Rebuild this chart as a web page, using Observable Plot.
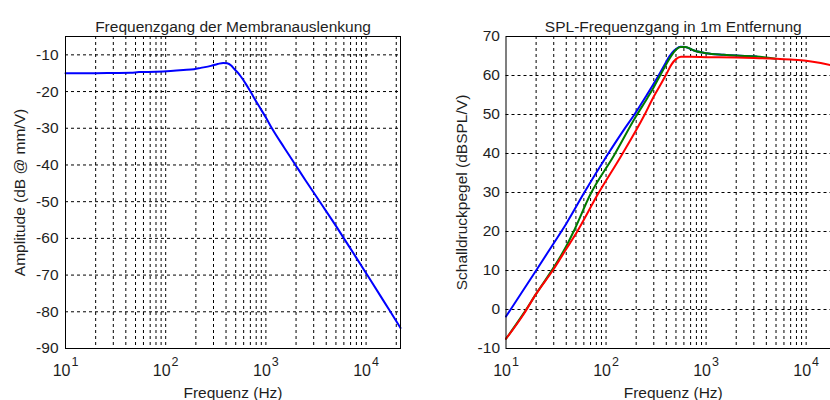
<!DOCTYPE html>
<html>
<head>
<meta charset="utf-8">
<script src="https://cdn.jsdelivr.net/npm/d3@7"></script>
<script src="https://cdn.jsdelivr.net/npm/@observablehq/plot@0.6"></script>
<style>
  html, body { margin: 0; padding: 0; background: #fff; overflow: hidden; }
  #wrap { display: flex; width: 860px; height: 400px; }
  #wrap svg { display: block; flex: none; }
</style>
</head>
<body>
<div id="wrap"></div>
<script>
// Membrane excursion (dB re mm/V) versus frequency
const excFreq = [10, 20, 30, 45, 54, 80, 112, 150, 192, 224, 282, 330, 375, 410, 450, 482, 530, 562, 630, 708, 800, 891, 1000, 1148, 1525, 1995, 2500, 3548, 5000, 6070, 8000, 10390, 14000, 17500, 22050];
const excDb   = [-15.0, -15.0, -14.95, -14.9, -14.7, -14.6, -14.4, -14.15, -13.9, -13.55, -13.0, -12.5, -12.2, -12.3, -12.9, -13.8, -15.0, -15.9, -17.9, -20.2, -22.7, -24.8, -27.1, -30.0, -35.3, -40.2, -44.3, -50.5, -56.6, -60.2, -65.3, -70.2, -75.8, -80.0, -84.4];

// SPL at 1 m (dBSPL/V), three variants
const splBlueFreq = [10, 20, 30, 40, 60, 103, 150, 190, 250, 325, 380, 430, 480, 530, 556, 620, 755, 1000, 1500, 2000, 3200];
const splBlueDb   = [-1.8, 10.0, 17.0, 22.0, 29.8, 39.6, 46.0, 49.8, 54.6, 59.4, 62.5, 64.9, 66.4, 67.2, 67.4, 67.3, 66.4, 65.7, 65.3, 65.1, 64.9];

const splGreenFreq = [10, 15, 20, 30, 40, 47, 70, 120, 200, 260, 300, 350, 400, 450, 500, 556, 620, 755, 1000, 1500, 2000, 3200, 5000];
const splGreenDb   = [-7.5, -1.0, 4.0, 10.8, 16.2, 19.8, 29.6, 39.5, 49.6, 54.3, 57.0, 60.2, 62.9, 65.1, 66.6, 67.3, 67.3, 66.4, 65.7, 65.3, 65.1, 64.9, 64.3];

const splRedFreq = [10, 15, 20, 30, 40, 51, 83, 145, 239, 300, 350, 400, 450, 500, 560, 700, 1000, 2000, 3000, 5000, 7000, 10000, 14000, 17400, 22050];
const splRedDb   = [-7.5, -1.2, 4.0, 10.4, 15.5, 19.8, 29.6, 39.8, 49.6, 54.6, 57.6, 60.3, 62.8, 64.2, 64.8, 64.8, 64.7, 64.6, 64.5, 64.3, 64.1, 63.8, 63.2, 62.7, 61.9];

// Axis ticks and grid positions
const xDomain = [10, 22050];
const xLabelTicks = [10, 100, 1000, 10000];
const xGrid = [20, 30, 40, 50, 60, 70, 80, 90, 100, 200, 300, 400, 500, 600, 700, 800, 900, 1000,
               2000, 3000, 4000, 5000, 6000, 7000, 8000, 9000, 10000, 20000];
const excTicks = [-90, -80, -70, -60, -50, -40, -30, -20, -10];
const splTicks = [-10, 0, 10, 20, 30, 40, 50, 60, 70];

const zip = (xs, ys) => xs.map((f, i) => ({f, v: ys[i]}));

const FONT = "'Liberation Sans', Arial, Helvetica, sans-serif";
const INK = "#1e1e1e";

function panel({width, marginLeft, yDomain, yTicks, tickPad, title, ylabel, ylabelDx, series}) {
  const gridY = yTicks.filter(t => t > yDomain[0] && t < yDomain[1]);
  const svg = Plot.plot({
    width, height: 400,
    marginLeft, marginRight: 20, marginTop: 36, marginBottom: 52,
    style: {fontFamily: FONT, fontSize: "15.5px", color: INK, background: "#fff", overflow: "visible"},
    x: {type: "log", domain: xDomain},
    y: {domain: yDomain},
    marks: [
      Plot.ruleX(xGrid, {stroke: "#000", strokeWidth: 1, strokeDasharray: "3,3"}),
      Plot.ruleY(gridY, {stroke: "#000", strokeWidth: 1, strokeDasharray: "3,3"}),
      ...series.map(s => Plot.line(zip(s.f, s.v), {x: "f", y: "v", stroke: s.color, strokeWidth: 2, curve: "monotone-x"})),
      Plot.frame({stroke: "#000", strokeWidth: 1}),
      Plot.axisX({ticks: xLabelTicks, tickSize: 0, tickPadding: 16, tickFormat: d => String(d), label: null, fontSize: 16}),
      Plot.axisY({ticks: yTicks, tickSize: 0, tickPadding: tickPad, tickFormat: d => String(d), label: null, fontSize: 15.5}),
      Plot.text([title], {frameAnchor: "top", dy: -16, fontSize: 15.5, textAnchor: "middle"}),
      Plot.text(["Frequenz (Hz)"], {frameAnchor: "bottom", dy: 49, fontSize: 15.5, textAnchor: "middle"}),
      Plot.text([ylabel], {frameAnchor: "left", rotate: -90, dx: ylabelDx, fontSize: 15.5, textAnchor: "middle"})
    ]
  });
  // decade labels as 10 with a raised exponent
  svg.querySelectorAll('g[aria-label="x-axis tick label"] text').forEach(t => {
    const p = Math.round(Math.log10(+t.textContent));
    t.textContent = "";
    const base = document.createElementNS("http://www.w3.org/2000/svg", "tspan");
    base.textContent = "10";
    const exp = document.createElementNS("http://www.w3.org/2000/svg", "tspan");
    exp.textContent = String(p);
    exp.setAttribute("dy", "-10");
    exp.setAttribute("dx", "1");
    exp.setAttribute("font-size", "12.5");
    t.appendChild(base);
    t.appendChild(exp);
  });
  return svg;
}

const wrap = document.getElementById("wrap");

wrap.appendChild(panel({
  width: 420, marginLeft: 65, yDomain: [-90, -5], yTicks: excTicks, tickPad: 7,
  title: "Frequenzgang der Membranauslenkung",
  ylabel: "Amplitude (dB @ mm/V)", ylabelDx: -45,
  series: [{f: excFreq, v: excDb, color: "#0000ff"}]
}));

wrap.appendChild(panel({
  width: 440, marginLeft: 85.5, yDomain: [-10, 70], yTicks: splTicks, tickPad: 6,
  title: "SPL-Frequenzgang in 1m Entfernung",
  ylabel: "Schalldruckpegel (dBSPL/V)", ylabelDx: -43.5,
  series: [
    {f: splBlueFreq, v: splBlueDb, color: "#0000ff"},
    {f: splGreenFreq, v: splGreenDb, color: "#007a00"},
    {f: splRedFreq, v: splRedDb, color: "#ff0000"}
  ]
}));
</script>
</body>
</html>
